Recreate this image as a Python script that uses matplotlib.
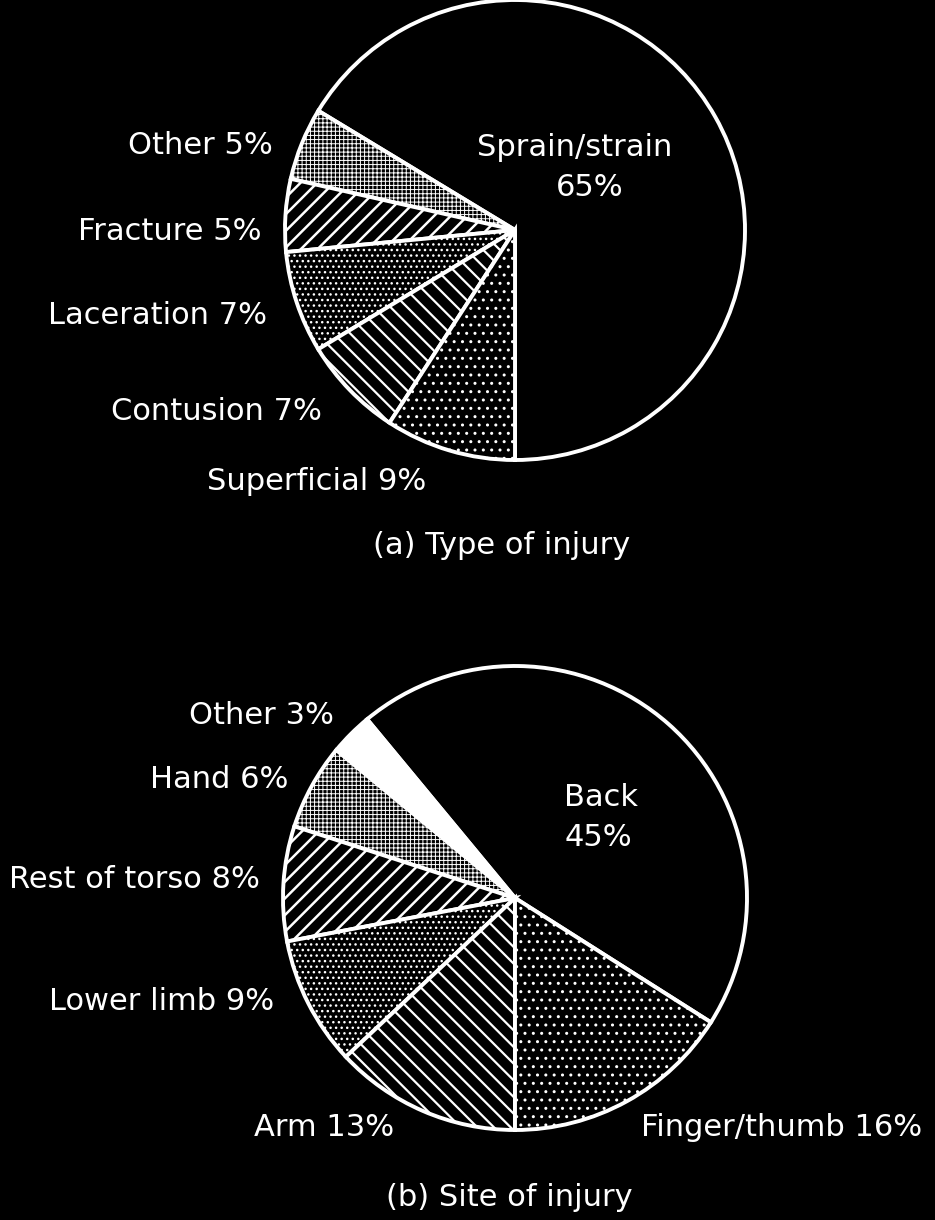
import matplotlib
matplotlib.use("Agg")
import matplotlib.pyplot as plt

plt.rcParams['hatch.linewidth'] = 1.6
plt.rcParams['font.family'] = ['DejaVu Sans']

# (a) Type of injury
type_labels = ["Sprain/strain", "Other", "Fracture", "Laceration", "Contusion", "Superficial"]
type_values = [65, 5, 5, 7, 7, 9]
type_hatches = ["", "++++", "//", "...", "\\\\", ".."]
type_faces = ["black", "black", "black", "black", "black", "black"]

# (b) Site of injury
site_labels = ["Back", "Other", "Hand", "Rest of torso", "Lower limb", "Arm", "Finger/thumb"]
site_values = [45, 3, 6, 8, 9, 13, 16]
site_hatches = ["", "", "++++", "//", "...", "\\\\", ".."]
site_faces = ["black", "white", "black", "black", "black", "black", "black"]

hatch_widths = {"": 1.0, "++++": 0.7, "//": 1.8, "...": 1.0, "\\\\": 1.6, "..": 1.0}

W, H = 935, 1220
fig = plt.figure(figsize=(W / 100, H / 100), dpi=100, facecolor="black")
ax = fig.add_axes([0, 0, 1, 1])
ax.set_facecolor("black")


def draw_pie(values, hatches, faces, center, radius, start):
    wedges, _ = ax.pie(values, startangle=start, counterclock=True,
                       center=center, radius=radius, normalize=True,
                       wedgeprops=dict(edgecolor="white", linewidth=2.8),
                       colors=faces, frame=True)
    for w, h in zip(wedges, hatches):
        w.set_hatch(h)
        if hasattr(w, "set_hatch_linewidth"):
            w.set_hatch_linewidth(hatch_widths[h])
    return wedges


draw_pie(type_values, type_hatches, type_faces, (515, H - 230), 230, -90)
site_start = -90 + 360 * site_values[-1] / sum(site_values)
draw_pie(site_values, site_hatches, site_faces, (515, H - 898), 232, site_start)

ax.set_xlim(0, W)
ax.set_ylim(0, H)
ax.set_aspect("equal")
ax.axis("off")

fs = 22


def txt(x, y, s):
    fig.text(x / W, 1 - y / H, s, ha="center", va="center", color="white", fontsize=fs)


type_text = [
    (200, 146, f"{type_labels[1]} {type_values[1]}%"),
    (170, 231, f"{type_labels[2]} {type_values[2]}%"),
    (157, 316, f"{type_labels[3]} {type_values[3]}%"),
    (216, 412, f"{type_labels[4]} {type_values[4]}%"),
    (317, 482, f"{type_labels[5]} {type_values[5]}%"),
    (575, 147, type_labels[0]),
    (590, 188, f"{type_values[0]}%"),
    (502, 545, "(a) Type of injury"),
]
site_text = [
    (261, 716, f"{site_labels[1]} {site_values[1]}%"),
    (219, 779, f"{site_labels[2]} {site_values[2]}%"),
    (134, 880, f"{site_labels[3]} {site_values[3]}%"),
    (162, 1001, f"{site_labels[4]} {site_values[4]}%"),
    (324, 1128, f"{site_labels[5]} {site_values[5]}%"),
    (782, 1128, f"{site_labels[6]} {site_values[6]}%"),
    (601, 798, site_labels[0]),
    (598, 838, f"{site_values[0]}%"),
    (509, 1197, "(b) Site of injury"),
]
for x, y, s in type_text + site_text:
    txt(x, y, s)

fig.savefig("out.png", dpi=100, facecolor="black")
